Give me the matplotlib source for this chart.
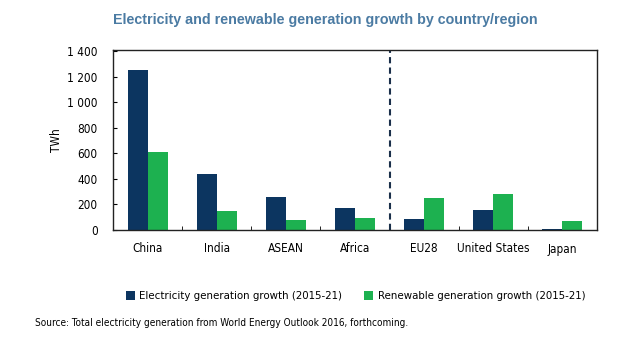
import matplotlib.pyplot as plt
import numpy as np

# Datos (TWh)
regions = ['China', 'India', 'ASEAN', 'Africa', 'EU28', 'United States', 'Japan']
electricity_growth = [1255, 440, 260, 170, 90, 155, 5]
renewable_growth = [610, 145, 80, 95, 250, 285, 70]
y_ticks = [0, 200, 400, 600, 800, 1000, 1200, 1400]
y_tick_labels = ['0', '200', '400', '600', '800', '1 000', '1 200', '1 400']

navy = '#0c3560'
green = '#1db150'
font = {'family': 'DejaVu Sans', 'stretch': 'condensed', 'size': 8.5}

fig = plt.figure(figsize=(6.4, 3.37), dpi=100)
ax = fig.add_axes([113 / 640, 1 - 230 / 337, (597 - 113) / 640, (230 - 50) / 337])

x = np.arange(len(regions))
w = 0.29
ax.bar(x - w / 2, electricity_growth, w, color=navy, label='Electricity generation growth (2015-21)')
ax.bar(x + w / 2, renewable_growth, w, color=green, label='Renewable generation growth (2015-21)')

# Línea discontinua que separa economías emergentes y avanzadas
ax.axvline(3.5, color='#1a2f4a', linestyle=(0, (3, 2)), linewidth=1.5)

ax.set_xlim(-0.5, len(regions) - 0.5)
ax.set_ylim(0, 1410)
ax.set_yticks(y_ticks)
ax.set_yticklabels(y_tick_labels, **font)
ax.set_xticks(x)
ax.set_xticklabels(regions, **font)
ax.tick_params(axis='x', length=0, pad=9)
ax.tick_params(axis='y', direction='in', length=3, pad=11)
# Pequeñas marcas entre grupos
ax.set_xticks(np.arange(0.5, len(regions) - 1, 1), minor=True)
ax.tick_params(axis='x', which='minor', direction='in', length=3)
for s in ax.spines.values():
    s.set_linewidth(1.0)
    s.set_color('#222222')
ax.set_ylabel('TWh', labelpad=3, **font)

fig.text(113 / 640, 1 - 20 / 337, 'Electricity and renewable generation growth by country/region',
         fontsize=10.3, fontweight='bold', color='#4b7ba3', va='center', family='Liberation Sans')

legend_font = dict(font, size=8.2)
fig.legend(loc='center left', bbox_to_anchor=(120 / 640, 1 - 296 / 337), ncol=2, frameon=False,
           prop=legend_font, handlelength=0.8, handleheight=0.8,
           handletextpad=0.4, columnspacing=1.9, borderpad=0)

fig.text(35 / 640, 1 - 323 / 337,
         'Source: Total electricity generation from World Energy Outlook 2016, forthcoming.',
         fontsize=7.2, family='DejaVu Sans', stretch='condensed', va='center')

fig.savefig('out.png', dpi=100)
